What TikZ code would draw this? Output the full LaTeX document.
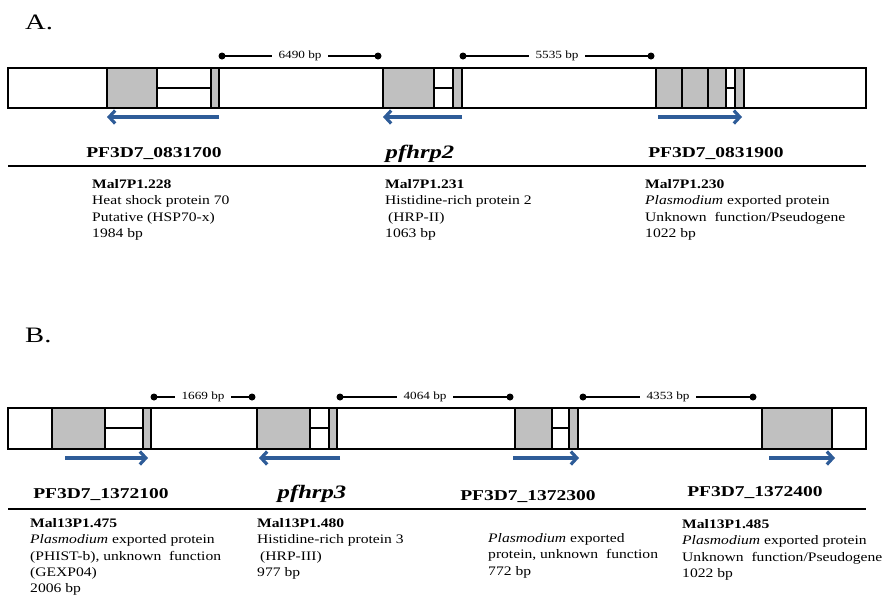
\documentclass[tikz,border=0pt]{standalone}
\usepackage{fontspec}
\setmainfont[FakeStretch=1.2]{Liberation Serif}
\newfontfamily\genefont[FakeStretch=1.3]{Liberation Serif}
\usetikzlibrary{arrows.meta}
\definecolor{exongray}{RGB}{192,192,192}
\definecolor{arrowblue}{RGB}{46,92,152}
\tikzset{
  bar/.style={draw, line width=1.9pt},
  exon/.style={draw, line width=1.9pt, fill=exongray},
  intron/.style={draw, line width=1.9pt, fill=white},
  genearrow/.style={arrowblue, line width=3.2pt, -{Straight Barb[length=6pt,width=13pt]}},
  scalebar/.style={line width=1.7pt},
  sclabel/.style={fill=white, inner xsep=7pt, inner ysep=1pt, font=\fontsize{11}{12}\selectfont},
  genelabel/.style={anchor=base, inner sep=0pt, font=\genefont\fontsize{15}{16}\selectfont\bfseries},
  hrplabel/.style={anchor=base, inner sep=0pt, font=\genefont\fontsize{19}{20}\selectfont\bfseries\itshape},
  panel/.style={anchor=base west, inner sep=0pt, font=\genefont\fontsize{22}{24}\selectfont},
  desc/.style={anchor=north west, inner sep=0pt, align=left, font=\fontsize{13}{16.4}\selectfont},
  rule/.style={line width=2pt}
}
\begin{document}
\begin{tikzpicture}[x=1pt, y=-1pt]
\useasboundingbox (0,0) rectangle (889,603);

% panel A
\node[panel] (pA) at (25,29) {A.};
\draw[bar] (8,68) rectangle (866,108);
\foreach \a/\b in {157/211, 434/453, 726/735}
  \draw[intron] (\a,68) rectangle (\b,108) (\a,88) -- (\b,88);
\foreach \a/\b in {107/157, 211/219, 383/434, 453/462, 656/682, 682/708, 708/726, 735/744}
  \draw[exon] (\a,68) rectangle (\b,108);
\foreach \n/\a/\b/\t in {1/222/378/6490, 2/463/651/5535}{
  \coordinate (sa\n) at (\a,56);
  \coordinate (sb\n) at (\b,56);
  \draw[scalebar] (sa\n) -- (sb\n) node[midway, sclabel] {\t\ bp};
  \fill (sa\n) circle (3.5pt) (sb\n) circle (3.5pt);
}
\foreach \a/\b in {219/107, 462/383, 658/742}
  \draw[genearrow] (\a,117) -- (\b,117);

\node[genelabel] (gA1) at (154,157) {PF3D7\_0831700};
\node[hrplabel] (gA2) at (420,158) {pfhrp2};
\node[genelabel] (gA3) at (716,157) {PF3D7\_0831900};
\coordinate (ruleA1) at (8,166);
\coordinate (ruleA2) at (866,166);
\draw[rule] (ruleA1) -- (ruleA2);

\node[desc] (dA1) at (92,179) {\textbf{Mal7P1.228}\\Heat shock protein 70\\Putative (HSP70-x)\\1984 bp};
\node[desc] (dA2) at (385,179) {\textbf{Mal7P1.231}\\Histidine-rich protein 2\\\hspace{3pt}(HRP-II)\\1063 bp};
\node[desc] (dA3) at (645,179) {\textbf{Mal7P1.230}\\\textit{Plasmodium} exported protein\\Unknown\ \ function/Pseudogene\\1022 bp};

% panel B
\node[panel] (pB) at (25,342) {B.};
\draw[bar] (8,408) rectangle (866,449);
\foreach \a/\b in {105/143, 310/329, 552/569}
  \draw[intron] (\a,408) rectangle (\b,449) (\a,428) -- (\b,428);
\foreach \a/\b in {52/105, 143/151, 257/310, 329/337, 515/552, 569/578, 762/832}
  \draw[exon] (\a,408) rectangle (\b,449);
\foreach \n/\a/\b/\t in {3/154/252/1669, 4/340/510/4064, 5/583/753/4353}{
  \coordinate (sa\n) at (\a,397);
  \coordinate (sb\n) at (\b,397);
  \draw[scalebar] (sa\n) -- (sb\n) node[midway, sclabel] {\t\ bp};
  \fill (sa\n) circle (3.5pt) (sb\n) circle (3.5pt);
}
\foreach \a/\b in {65/148, 340/259, 513/579, 769/835}
  \draw[genearrow] (\a,458) -- (\b,458);

\node[genelabel] (gB1) at (101,498) {PF3D7\_1372100};
\node[hrplabel] (gB2) at (312,498) {pfhrp3};
\node[genelabel] (gB3) at (528,500) {PF3D7\_1372300};
\node[genelabel] (gB4) at (755,496) {PF3D7\_1372400};
\coordinate (ruleB1) at (8,509);
\coordinate (ruleB2) at (866,509);
\draw[rule] (ruleB1) -- (ruleB2);

\node[desc] (dB1) at (30,518) {\textbf{Mal13P1.475}\\\textit{Plasmodium} exported protein\\(PHIST-b), unknown\ \ function\\(GEXP04)\\2006 bp};
\node[desc] (dB2) at (257,518) {\textbf{Mal13P1.480}\\Histidine-rich protein 3\\\hspace{3pt}(HRP-III)\\977 bp};
\node[desc] (dB3) at (488,533) {\textit{Plasmodium} exported\\protein, unknown\ \ function\\772 bp};
\node[desc] (dB4) at (682,519) {\textbf{Mal13P1.485}\\\textit{Plasmodium} exported protein\\Unknown\ \ function/Pseudogene\\1022 bp};
\end{tikzpicture}
\end{document}
